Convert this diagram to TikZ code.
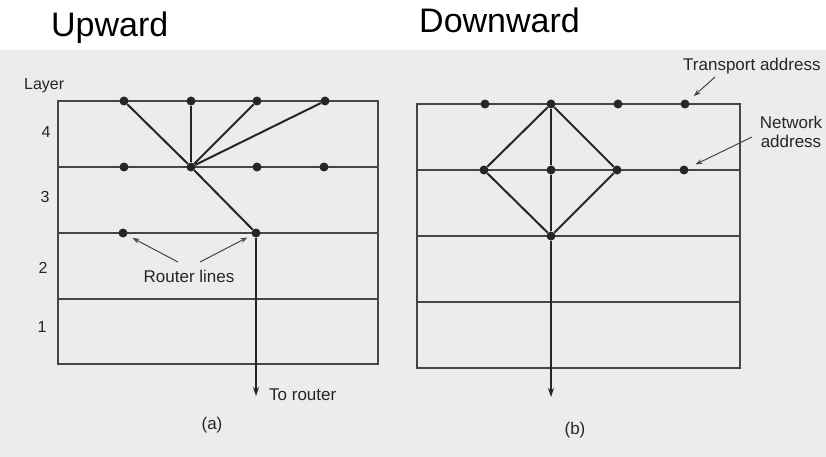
\documentclass[tikz,border=0pt]{standalone}
\usepackage{fontspec}
\setmainfont{Liberation Sans}
\usetikzlibrary{arrows.meta}
\definecolor{paper}{RGB}{236,236,236}
\definecolor{ink}{RGB}{38,38,38}
\definecolor{rule}{RGB}{70,70,70}
\begin{document}
\begin{tikzpicture}[x=1pt,y=-1pt,
  dot/.style={circle,fill=ink,inner sep=0pt,minimum size=9pt},
  frame/.style={draw=rule,line width=1.4pt},
  link/.style={draw=ink,line width=2pt},
  downlink/.style={link,-{Stealth[length=9pt,width=6pt]}},
  pointer/.style={draw=rule,line width=1pt,-{Stealth[length=7pt,width=5pt]}},
  lbl/.style={font=\fontsize{17}{19}\selectfont,text=ink,inner sep=0pt},
  layerno/.style={font=\fontsize{16}{18}\selectfont,text=ink,inner sep=0pt},
  heading/.style={font=\fontsize{34}{38}\selectfont,text=black,inner sep=0pt}]

\useasboundingbox (0,0) rectangle (826,457);
\fill[paper] (0,50) rectangle (826,457);

% headings
\node[heading,anchor=base west] (hup) at (51,37) {Upward};
\node[heading,anchor=base west] (hdown) at (419,33) {Downward};

% ---------- (a) upward ----------
\draw[frame] (58,101) rectangle (378,364);
\draw[frame] (58,167) -- (378,167);
\draw[frame] (58,233) -- (378,233);
\draw[frame] (58,299) -- (378,299);

\node[layerno,anchor=base west] (lay) at (24,90) {Layer};
\node[layerno] (l4) at (46,132) {4};
\node[layerno] (l3) at (45,197) {3};
\node[layerno] (l2) at (43,268) {2};
\node[layerno] (l1) at (42,327) {1};

\node[dot] (a41) at (124,101) {};
\node[dot] (a42) at (191,101) {};
\node[dot] (a43) at (257,101) {};
\node[dot] (a44) at (325,101) {};
\node[dot] (a31) at (124,167) {};
\node[dot] (a32) at (191,167) {};
\node[dot] (a33) at (257,167) {};
\node[dot] (a34) at (324,167) {};
\node[dot] (a21) at (123,233) {};
\node[dot] (a22) at (256,233) {};
\coordinate (aout) at (256,396);

\draw[link] (a32) -- (a41);
\draw[link] (a32) -- (a42);
\draw[link] (a32) -- (a43);
\draw[link] (a32) -- (a44);
\draw[link] (a32) -- (a22);
\draw[downlink] (a22) -- (aout);

\node[lbl] (rl) at (189,276) {Router lines};
\coordinate (rlL) at (178,262);
\coordinate (rlR) at (200,262);
\draw[pointer,shorten >=6pt] (rlL) -- (a21);
\draw[pointer,shorten >=5pt] (rlR) -- (a22);

\node[lbl,anchor=base west] (tor) at (269,400) {To router};
\node[lbl] (capa) at (212,425) {(a)};

% ---------- (b) downward ----------
\draw[frame] (417,104) rectangle (740,368);
\draw[frame] (417,170) -- (740,170);
\draw[frame] (417,236) -- (740,236);
\draw[frame] (417,302) -- (740,302);

\node[dot] (b41) at (485,104) {};
\node[dot] (b42) at (551,104) {};
\node[dot] (b43) at (618,104) {};
\node[dot] (b44) at (685,104) {};
\node[dot] (b31) at (484,170) {};
\node[dot] (b32) at (551,170) {};
\node[dot] (b33) at (617,170) {};
\node[dot] (b34) at (684,170) {};
\node[dot] (b21) at (551,236) {};
\coordinate (bout) at (551,397);

\draw[link] (b42) -- (b31);
\draw[link] (b42) -- (b33);
\draw[link] (b42) -- (b32);
\draw[link] (b32) -- (b21);
\draw[link] (b31) -- (b21);
\draw[link] (b33) -- (b21);
\draw[downlink] (b21) -- (bout);

\node[lbl,anchor=base west] (ta) at (683,71) {Transport address};
\coordinate (taP) at (715,77);
\draw[pointer,shorten >=7pt] (taP) -- (b44);

\node[lbl,align=center,font=\fontsize{17}{19}\selectfont] (na) at (791,131.5) {Network\\address};
\coordinate (naP) at (752,137);
\draw[pointer,shorten >=8pt] (naP) -- (b34);

\node[lbl] (capb) at (575,430) {(b)};
\end{tikzpicture}
\end{document}
